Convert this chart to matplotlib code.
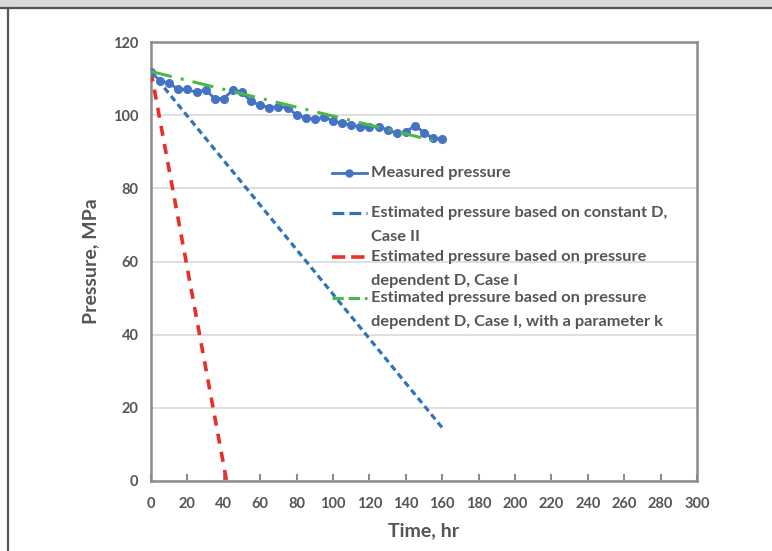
import matplotlib.pyplot as plt
from matplotlib.lines import Line2D
from matplotlib.patches import Rectangle

# Measured pressure, every 5 hours
time_meas = [0, 5, 10, 15, 20, 25, 30, 35, 40, 45, 50, 55, 60, 65, 70, 75,
             80, 85, 90, 95, 100, 105, 110, 115, 120, 125, 130, 135, 140,
             145, 150, 155, 160]
p_meas = [111.8, 109.5, 108.8, 107.1, 107.1, 106.3, 107.0, 104.6, 104.6,
          107.0, 106.3, 103.8, 102.8, 102.1, 102.4, 102.1, 100.1, 99.4, 98.9,
          99.5, 98.5, 97.8, 97.4, 96.9, 96.9, 96.9, 96.0, 95.1, 95.5, 97.2,
          95.3, 93.7, 93.5]

# Model estimates (straight lines, start / end)
time_const = [0, 160]
p_const = [112, 14.5]
time_case1 = [0, 41.5]
p_case1 = [112, 0]
time_case1k = [0, 160]
p_case1k = [112, 92.5]

labels = ['Measured pressure',
          'Estimated pressure based on constant D,\nCase II',
          'Estimated pressure based on pressure\ndependent D, Case I',
          'Estimated pressure based on pressure\ndependent D, Case I, with a parameter k']

xticks = list(range(0, 301, 20))
yticks = list(range(0, 121, 20))

plt.rcParams['font.family'] = ['Lato', 'DejaVu Sans']
text_color = '#555555'

fig = plt.figure(figsize=(7.72, 5.51), dpi=100)
fig.patches.append(Rectangle((0, 1 - 8 / 551), 1, 8 / 551, transform=fig.transFigure,
                             color='#d9d9d9', zorder=0))
fig.add_artist(Line2D([0, 1], [1 - 8 / 551] * 2, transform=fig.transFigure,
                      color='#555555', lw=1.6))
fig.add_artist(Line2D([8 / 772] * 2, [0, 1 - 8 / 551], transform=fig.transFigure,
                      color='#555555', lw=1.6))

ax = fig.add_axes([151 / 772, 70.3 / 551, 546 / 772, 438.4 / 551])

blue = '#4472c4'
line_meas, = ax.plot(time_meas, p_meas, color=blue, lw=2, marker='o', ms=5.5, zorder=5)
line_const, = ax.plot(time_const, p_const, color='#2e75b6', lw=2.3, ls=(0, (2, 1.3)), zorder=4)
line_c1, = ax.plot(time_case1, p_case1, color='#e8302a', lw=2.6, ls=(0, (2.8, 2.3)), zorder=4)
line_c1k, = ax.plot(time_case1k, p_case1k, color='#4cb848', lw=2.2,
                    ls=(0, (7, 3, 1, 3)), zorder=6)

ax.set_xlim(0, 300)
ax.set_ylim(0, 120)
ax.set_xticks(xticks)
ax.set_yticks(yticks)
ax.grid(axis='y', color='#d9d9d9', lw=1.2)
ax.set_axisbelow(True)
for s in ax.spines.values():
    s.set_color('#8c8c8c')
    s.set_linewidth(1.8)
ax.tick_params(axis='x', direction='in', length=5, width=1.5, color='#8c8c8c',
               pad=12, labelsize=10.5, labelcolor=text_color)
ax.tick_params(axis='y', length=0, pad=9, labelsize=10.5, labelcolor=text_color)
for lbl in ax.get_xticklabels() + ax.get_yticklabels():
    lbl.set_fontweight('bold')

ax.set_xlabel('Time, hr', fontsize=14, fontweight='bold', color=text_color, labelpad=8)
ax.set_ylabel('Pressure, MPa', fontsize=14, fontweight='bold', color=text_color, labelpad=10)

# Legend drawn by hand so each sample sits on the first text line
handles = [line_meas, line_const, line_c1, line_c1k]
rows_px = [172.7, 213.3, 257.3, 298.3]
line_gap_px = 23.5
x0 = (331.7 - 151) / 546
x1 = (366.7 - 151) / 546
xt = (370.7 - 151) / 546
for h, lab, ypx in zip(handles, labels, rows_px):
    yf = (480.7 - ypx) / 438.4
    ax.add_line(Line2D([x0, x1], [yf, yf], transform=ax.transAxes, color=h.get_color(),
                       lw=h.get_linewidth(), ls=h.get_linestyle(), clip_on=False, zorder=7))
    if h is line_meas:
        ax.plot([(x0 + x1) / 2], [yf], transform=ax.transAxes, marker='o', ms=5,
                color=blue, zorder=7)
    for i, part in enumerate(lab.split('\n')):
        ax.text(xt, yf - i * line_gap_px / 438.4, part, transform=ax.transAxes,
                fontsize=11.8, fontweight='bold', color=text_color,
                va='center', ha='left')

fig.savefig('out.png', dpi=100)
